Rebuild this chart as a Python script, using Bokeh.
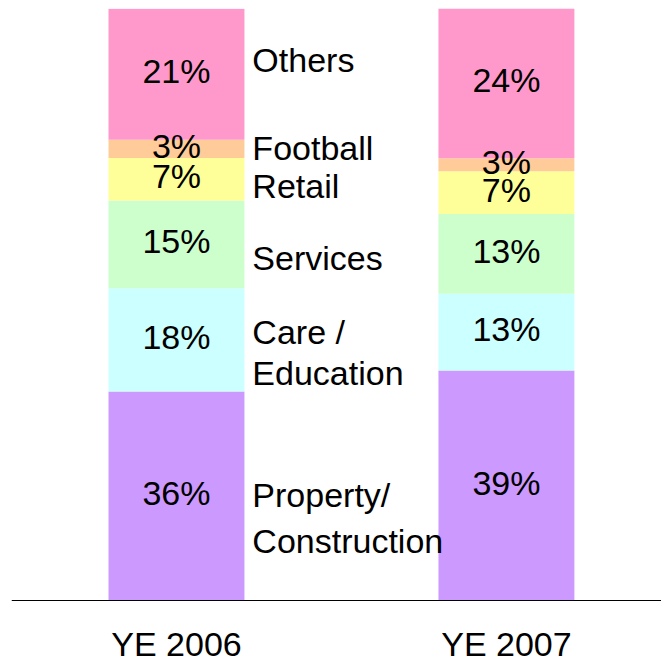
from bokeh.plotting import figure
from bokeh.models import ColumnDataSource, Range1d, Span
from bokeh.core.properties import value
from bokeh.embed import file_html
from bokeh.resources import INLINE

# ---- data ----
periods = ["YE 2006", "YE 2007"]
segments = ["Property/Construction", "Care/Education", "Services", "Retail", "Football", "Others"]
ye2006 = [35.3, 17.45, 14.8, 7.2, 3.1, 22.1]
ye2007 = [38.85, 12.95, 13.5, 7.2, 2.2, 25.3]
labels2006 = ["36%", "18%", "15%", "7%", "3%", "21%"]
labels2007 = ["39%", "13%", "13%", "7%", "3%", "24%"]
colors = ["#CC99FF", "#CCFFFF", "#CCFFCC", "#FFFF99", "#FFCC99", "#FF99CC"]

# category name labels beside the first bar (one entry per printed line)
name_lines = ["Others", "Football", "Retail", "Services", "Care /", "Education",
              "Property/", "Construction"]
name_y = [91.3, 76.5, 70.1, 57.8, 45.4, 38.5, 17.9, 10.1]
period_label_y = -7.3
pct_label_shift = 0.5

FONT = "Liberation Sans"
FS = "34px"
bar_w = 0.412
xs = [0.5, 1.5]

p = figure(width=661, height=663, output_backend="svg", toolbar_location=None,
           x_range=Range1d(0, 1.97), y_range=Range1d(-10.64, 100),
           min_border_left=11, min_border_right=0, min_border_top=8, min_border_bottom=0)
p.outline_line_color = None
p.grid.visible = False
p.axis.visible = False
p.background_fill_color = "white"

keys = [f"s{i}" for i in range(len(segments))]
data = {"x": xs}
for i, k in enumerate(keys):
    data[k] = [ye2006[i], ye2007[i]]
src = ColumnDataSource(data)
p.vbar_stack(keys, x="x", width=bar_w, color=colors, line_color=None, source=src)

# baseline (category axis line)
p.add_layout(Span(location=0, dimension="width", line_color="black", line_width=1))

# percentage labels centered in segments
lx, ly, lt = [], [], []
for xi, vals, labs in ((xs[0], ye2006, labels2006), (xs[1], ye2007, labels2007)):
    base = 0.0
    for v, t in zip(vals, labs):
        lx.append(xi)
        ly.append(base + v / 2 + pct_label_shift)
        lt.append(t)
        base += v
p.text(x=lx, y=ly, text=lt, text_align="center", text_baseline="middle",
       text_font=value(FONT), text_font_size=FS, text_color="black")

# segment names
name_x = xs[0] + bar_w / 2 + 0.024
p.text(x=[name_x] * len(name_lines), y=name_y, text=name_lines, text_align="left",
       text_baseline="middle", text_font=value(FONT), text_font_size=FS, text_color="black")

# period (category) labels
p.text(x=xs, y=[period_label_y] * len(xs), text=periods, text_align="center",
       text_baseline="middle", text_font=value(FONT), text_font_size=FS, text_color="black")

open("out.html", "w").write(file_html(p, INLINE))
